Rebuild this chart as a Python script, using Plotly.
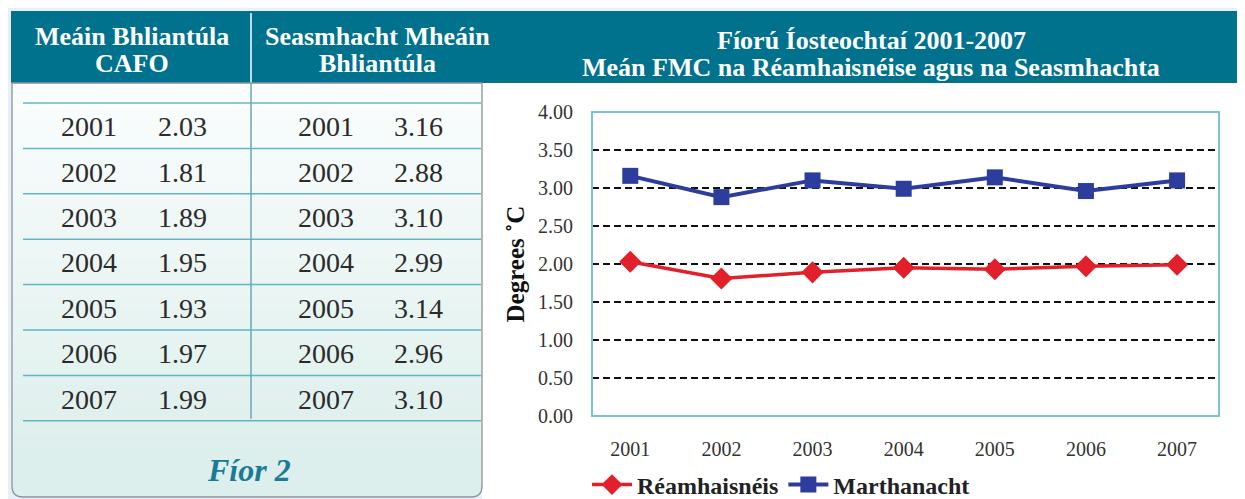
import plotly.graph_objects as go

# ---------------- data ----------------
years = [2001, 2002, 2003, 2004, 2005, 2006, 2007]
cafo = [2.03, 1.81, 1.89, 1.95, 1.93, 1.97, 1.99]          # Réamhaisnéis
seas = [3.16, 2.88, 3.10, 2.99, 3.14, 2.96, 3.10]          # Marthanacht
y_ticks = [0.0, 0.5, 1.0, 1.5, 2.0, 2.5, 3.0, 3.5, 4.0]
series_names = ["Réamhaisnéis", "Marthanacht"]
table_headers = [["Meáin Bhliantúla", "CAFO"], ["Seasmhacht Mheáin", "Bhliantúla"]]
chart_title = ["Fíorú Íosteochtaí 2001-2007", "Meán FMC na Réamhaisnéise agus na Seasmhachta"]
y_title = "Degrees ˚C"
caption = "Fíor 2"

# ---------------- layout helpers ----------------
W, H = 1245, 499
OFF = 8  # page body margin: figure origin sits 8px in from the window corner
SERIF = "Liberation Serif, Times New Roman, serif"
TEAL = "#00728e"


def px(x):
    return (x - OFF) / W


def py(y):
    return 1 - (y - OFF) / H


shapes = []
annotations = []


def rect(x0, y0, x1, y1, fill, line=None, lw=0, layer="below"):
    shapes.append(dict(type="rect", xref="paper", yref="paper",
                       x0=px(x0), x1=px(x1), y0=py(y1), y1=py(y0),
                       fillcolor=fill, line=dict(color=line or fill, width=lw),
                       layer=layer))


def hline(x0, x1, y, color, w):
    shapes.append(dict(type="line", xref="paper", yref="paper",
                       x0=px(x0), x1=px(x1), y0=py(y), y1=py(y),
                       line=dict(color=color, width=w), layer="below"))


def vline(x, y0, y1, color, w):
    shapes.append(dict(type="line", xref="paper", yref="paper",
                       x0=px(x), x1=px(x), y0=py(y0), y1=py(y1),
                       line=dict(color=color, width=w), layer="below"))


def text(x, y, s, size, color="#ffffff", bold=False, italic=False):
    if italic:
        s = "<i>" + s + "</i>"
    if bold:
        s = "<b>" + s + "</b>"
    annotations.append(dict(x=px(x), y=py(y), xref="paper", yref="paper",
                            text=s, showarrow=False,
                            font=dict(family=SERIF, size=size, color=color),
                            xanchor="center", yanchor="middle", align="center"))


# header band
rect(11, 11, 1260, 83, TEAL)
vline(251, 13, 83, "#ffffff", 1.5)

# right (chart) panel
rect(482, 83, 1260, 510, "#ffffff")


# left panel with rounded bottom corners
def panel_path():
    return (f"M {px(12)},{py(83)} L {px(12)},{py(486)} "
            f"Q {px(12)},{py(497)} {px(23)},{py(497)} L {px(471)},{py(497)} "
            f"Q {px(482)},{py(497)} {px(482)},{py(486)} L {px(482)},{py(83)} Z")


shapes.append(dict(type="path", xref="paper", yref="paper", path=panel_path(),
                   fillcolor="#ddefec", line=dict(color="#ddefec", width=0), layer="below"))
n = 30
c0 = (250, 253, 253)
c1 = (221, 239, 236)
for i in range(n):
    t = i / (n - 1)
    c = tuple(int(round(c0[k] + (c1[k] - c0[k]) * t)) for k in range(3))
    y0 = 84 + (460 - 84) * i / n
    y1 = 84 + (460 - 84) * (i + 1) / n + 0.5
    rect(12.5, y0, 481.5, y1, "rgb(%d,%d,%d)" % c)
shapes.append(dict(type="path", xref="paper", yref="paper", path=panel_path(),
                   fillcolor="rgba(0,0,0,0)", line=dict(color="#8c9696", width=1.3), layer="below"))

# table rules
row_top, row_h = 103, 45.4
for k in range(len(years) + 1):
    hline(23, 481, row_top + row_h * k, "#62b6c0", 1.5)
vline(251, 83, row_top + row_h * len(years) - 2, "#6aa9b2", 1.5)

# table headers (two lines each)
for xc, lines in zip([132, 378], table_headers):
    text(xc, 37, lines[0], 26, bold=True)
    text(xc, 63, lines[1], 26, bold=True)

# table cells
for i, yr in enumerate(years):
    yc = row_top + row_h * (i + 0.5) + 1
    for xc, s in [(89, str(yr)), (182, f"{cafo[i]:.2f}"),
                  (326, str(yr)), (418, f"{seas[i]:.2f}")]:
        text(xc, yc, s, 28, color="#2b2b2b")

# caption
text(249, 470, caption, 32, color="#1a7b97", bold=True, italic=True)

# chart title (two lines)
text(871, 41, chart_title[0], 26, bold=True)
text(871, 67, chart_title[1], 26, bold=True)

# plot border (above grid)
shapes.append(dict(type="rect", xref="x domain", yref="y domain",
                   x0=0, x1=1, y0=0, y1=1,
                   line=dict(color="#7cc3d6", width=2), fillcolor="rgba(0,0,0,0)",
                   layer="above"))

# ---------------- traces ----------------
fig = go.Figure()
fig.add_trace(go.Scatter(x=years, y=cafo, name=series_names[0], mode="lines+markers",
                         line=dict(color="#e2202c", width=3.5),
                         marker=dict(symbol="diamond", size=17, color="#e2202c")))
fig.add_trace(go.Scatter(x=years, y=seas, name=series_names[1], mode="lines+markers",
                         line=dict(color="#2d3d9e", width=4),
                         marker=dict(symbol="square", size=16, color="#2d3d9e")))

fig.update_layout(
    width=W, height=H, autosize=False,
    margin=dict(l=0, r=0, t=0, b=0, pad=0, autoexpand=False),
    paper_bgcolor="#e9eff9",
    plot_bgcolor="rgba(0,0,0,0)",
    shapes=shapes,
    annotations=annotations,
    showlegend=True,
    legend=dict(orientation="h", x=px(587), y=py(485), xanchor="left", yanchor="middle",
                bgcolor="rgba(0,0,0,0)", itemwidth=40,
                font=dict(family=SERIF, size=24, color="#222222", weight="bold")),
    xaxis=dict(domain=[px(592), px(1219)], range=[2000.58, 2007.46],
               tickvals=years, ticktext=[str(y) for y in years],
               showgrid=False, zeroline=False, showline=False,
               ticks="outside", ticklen=15, tickcolor="rgba(0,0,0,0)",
               tickfont=dict(family=SERIF, size=20, color="#333333")),
    yaxis=dict(domain=[py(416), py(112)], range=[0, 4],
               tickvals=y_ticks, ticktext=[f"{v:.2f}" for v in y_ticks],
               showgrid=True, gridcolor="#111111", gridwidth=2.2, griddash="7px,4px",
               zeroline=False, showline=False,
               ticks="outside", ticklen=14, tickcolor="rgba(0,0,0,0)",
               tickfont=dict(family=SERIF, size=20, color="#333333"),
               title=dict(text="<b>" + y_title + "</b>", standoff=6,
                          font=dict(family=SERIF, size=25, color="#111111"))),
)

fig.write_html("out.html")
